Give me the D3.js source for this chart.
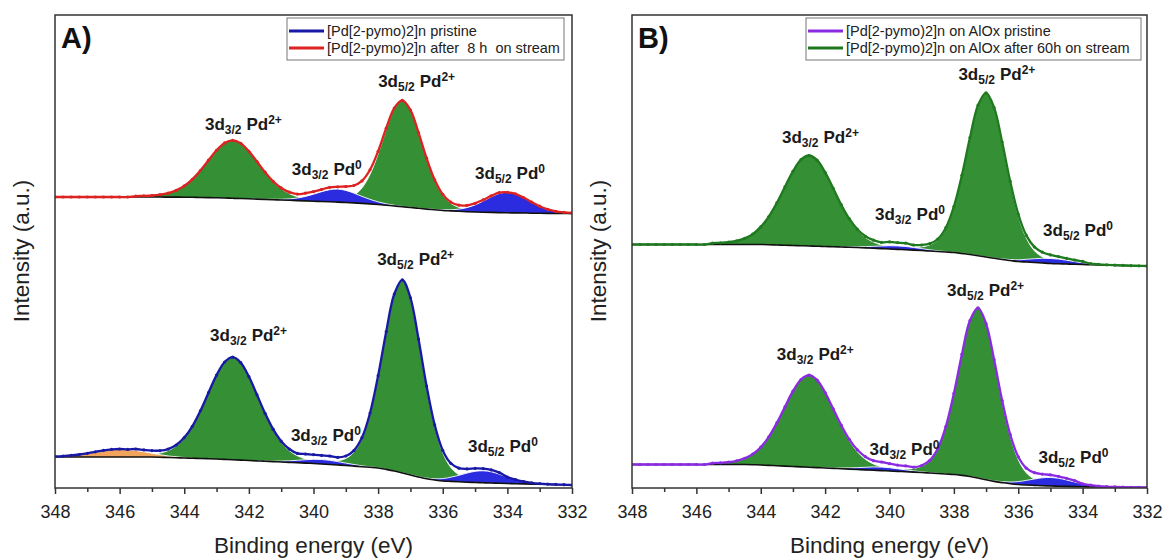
<!DOCTYPE html>
<html><head><meta charset="utf-8">
<script src="https://cdn.jsdelivr.net/npm/d3@7"></script>
<style>html,body{margin:0;padding:0;background:#fff;} svg{display:block;font-family:"Liberation Sans",Arial,sans-serif;}</style>
</head><body><svg id="chart" width="1166" height="558"></svg>
<script>
// ---------------- DATA ----------------
const energies = [348,347.75,347.5,347.25,347,346.75,346.5,346.25,346,345.75,345.5,345.25,345,
344.75,344.5,344.25,344,343.75,343.5,343.25,343,342.75,342.5,342.25,342,341.75,341.5,341.25,341,
340.75,340.5,340.25,340,339.75,339.5,339.25,339,338.75,338.5,338.25,338,337.75,337.5,337.25,337,
336.75,336.5,336.25,336,335.75,335.5,335.25,335,334.75,334.5,334.25,334,333.75,333.5,333.25,333,
332.75,332.5,332.25,332];
const xTickLabels = [348,346,344,342,340,338,336,334,332];
const xMinorTicks = [347,345,343,341,339,337,335,333];

// Shirley-type baselines (a.u.) on the energy grid
const baseA_top = [29.10,29.10,29.10,29.10,29.10,29.10,29.10,29.10,29.10,29.10,29.10,29.10,29.10,
29.10,29.09,29.09,29.08,29.07,29.05,29.04,29.02,29.00,28.97,28.95,28.92,28.89,28.86,28.83,28.80,
28.77,28.74,28.71,28.68,28.65,28.62,28.59,28.55,28.51,28.46,28.41,28.35,28.28,28.20,28.12,28.05,
27.97,27.89,27.82,27.75,27.71,27.67,27.63,27.60,27.58,27.56,27.54,27.52,27.51,27.50,27.48,27.47,
27.46,27.45,27.45,27.44];
const baseA_bot = [3.10,3.10,3.10,3.10,3.10,3.10,3.10,3.10,3.10,3.10,3.10,3.10,3.10,
3.08,3.05,3.03,3.00,2.98,2.95,2.93,2.90,2.86,2.83,2.79,2.75,2.71,2.68,2.64,2.60,
2.56,2.53,2.49,2.45,2.40,2.35,2.30,2.25,2.19,2.13,2.07,2.00,1.86,1.70,1.50,1.30,
1.10,0.92,0.80,0.70,0.66,0.62,0.58,0.55,0.52,0.50,0.47,0.45,0.43,0.41,0.39,0.37,
0.35,0.33,0.32,0.30];
const baseB_top = [24.35,24.35,24.35,24.35,24.35,24.35,24.35,24.35,24.35,24.35,24.35,24.35,24.35,
24.35,24.35,24.35,24.35,24.33,24.30,24.28,24.25,24.23,24.20,24.18,24.15,24.13,24.10,24.08,24.05,
24.01,23.98,23.94,23.90,23.86,23.83,23.79,23.75,23.70,23.65,23.60,23.55,23.45,23.35,23.23,23.10,
22.97,22.85,22.75,22.65,22.60,22.55,22.50,22.45,22.42,22.40,22.37,22.35,22.33,22.31,22.29,22.27,
22.25,22.23,22.22,22.20];
const baseB_bot = [2.35,2.35,2.35,2.35,2.35,2.35,2.35,2.35,2.35,2.35,2.35,2.35,2.35,
2.35,2.35,2.33,2.30,2.26,2.23,2.19,2.15,2.11,2.08,2.04,2.00,1.96,1.93,1.89,1.85,
1.81,1.78,1.74,1.70,1.66,1.63,1.59,1.55,1.50,1.45,1.40,1.35,1.26,1.15,1.00,0.82,
0.66,0.54,0.43,0.35,0.30,0.26,0.23,0.20,0.18,0.16,0.14,0.12,0.11,0.10,0.09,0.08,
0.07,0.06,0.06,0.05];

// Fitted components [binding energy, intensity above baseline]
const A_top_Pd2_32 = [[345.75,0],[345.5,0.08],[345.25,0.11],[345,0.15],[344.75,0.23],[344.5,0.39],[344.25,0.67],[344,1.13],[343.75,1.80],[343.5,2.70],[343.25,3.74],[343,4.75],[342.75,5.51],[342.5,5.8],[342.25,5.51],[342,4.75],[341.75,3.74],[341.5,2.70],[341.25,1.80],[341,1.13],[340.75,0.67],[340.5,0.39],[340.25,0.23],[340,0.15],[339.75,0.11],[339.5,0.08],[339.25,0]];
const A_top_Pd2_52 = [[340.5,0],[340.25,0.09],[340,0.10],[339.75,0.12],[339.5,0.16],[339.25,0.23],[339,0.39],[338.75,0.76],[338.5,1.55],[338.25,2.96],[338,5.06],[337.75,7.56],[337.5,9.72],[337.25,10.6],[337,9.72],[336.75,7.56],[336.5,5.06],[336.25,2.96],[336,1.55],[335.75,0.76],[335.5,0.39],[335.25,0.23],[335,0.16],[334.75,0.12],[334.5,0.10],[334.25,0.09],[334,0]];
const A_top_Pd0_32 = [[342,0],[341.75,0.018],[341.5,0.026],[341.25,0.042],[341,0.074],[340.75,0.14],[340.5,0.26],[340.25,0.45],[340,0.70],[339.75,0.98],[339.5,1.21],[339.25,1.3],[339,1.21],[338.75,0.98],[338.5,0.70],[338.25,0.45],[338,0.26],[337.75,0.14],[337.5,0.074],[337.25,0.042],[337,0.026],[336.75,0.018],[336.5,0]];
const A_top_Pd0_52 = [[336.75,0],[336.5,0.029],[336.25,0.041],[336,0.066],[335.75,0.117],[335.5,0.22],[335.25,0.41],[335,0.71],[334.75,1.11],[334.5,1.55],[334.25,1.91],[334,2.05],[333.75,1.91],[333.5,1.55],[333.25,1.11],[333,0.71],[332.75,0.41],[332.5,0.22],[332.25,0.117],[332,0.066]];

const A_bot_sat = [[348,0.05],[347.75,0.09],[347.5,0.155],[347.25,0.25],[347,0.37],[346.75,0.52],[346.5,0.66],[346.25,0.76],[346,0.8],[345.75,0.76],[345.5,0.66],[345.25,0.52],[345,0.37],[344.75,0.25],[344.5,0.155],[344.25,0.09],[344,0.05],[343.75,0]];
const A_bot_Pd2_32 = [[345.75,0],[345.5,0.14],[345.25,0.19],[345,0.27],[344.75,0.41],[344.5,0.69],[344.25,1.18],[344,1.99],[343.75,3.19],[343.5,4.77],[343.25,6.60],[343,8.39],[342.75,9.74],[342.5,10.25],[342.25,9.74],[342,8.39],[341.75,6.60],[341.5,4.77],[341.25,3.19],[341,1.99],[340.75,1.18],[340.5,0.69],[340.25,0.41],[340,0.27],[339.75,0.19],[339.5,0.14],[339.25,0]];
const A_bot_Pd2_52 = [[340.5,0],[340.25,0.16],[340,0.19],[339.75,0.22],[339.5,0.29],[339.25,0.42],[339,0.71],[338.75,1.39],[338.5,2.82],[338.25,5.38],[338,9.21],[337.75,13.76],[337.5,17.70],[337.25,19.3],[337,17.70],[336.75,13.76],[336.5,9.21],[336.25,5.38],[336,2.82],[335.75,1.39],[335.5,0.71],[335.25,0.42],[335,0.29],[334.75,0.22],[334.5,0.19],[334.25,0.16],[334,0]];
const A_bot_Pd0_32 = [[342,0],[341.75,0.014],[341.5,0.026],[341.25,0.05],[341,0.09],[340.75,0.16],[340.5,0.24],[340.25,0.34],[340,0.42],[339.75,0.45],[339.5,0.42],[339.25,0.34],[339,0.24],[338.75,0.16],[338.5,0.09],[338.25,0.05],[338,0.026],[337.75,0.014],[337.5,0]];
const A_bot_Pd0_52 = [[337.5,0],[337.25,0.017],[337,0.024],[336.75,0.038],[336.5,0.068],[336.25,0.13],[336,0.24],[335.75,0.42],[335.5,0.65],[335.25,0.91],[335,1.12],[334.75,1.2],[334.5,1.12],[334.25,0.91],[334,0.65],[333.75,0.42],[333.5,0.24],[333.25,0.13],[333,0.068],[332.75,0.038],[332.5,0.024],[332.25,0.017],[332,0]];

const B_top_Pd2_32 = [[345.75,0],[345.5,0.13],[345.25,0.17],[345,0.24],[344.75,0.36],[344.5,0.61],[344.25,1.04],[344,1.76],[343.75,2.81],[343.5,4.21],[343.25,5.83],[343,7.41],[342.75,8.60],[342.5,9.05],[342.25,8.60],[342,7.41],[341.75,5.83],[341.5,4.21],[341.25,2.81],[341,1.76],[340.75,1.04],[340.5,0.61],[340.25,0.36],[340,0.24],[339.75,0.17],[339.5,0.13],[339.25,0]];
const B_top_Pd2_52 = [[340.25,0],[340,0.14],[339.75,0.16],[339.5,0.19],[339.25,0.25],[339,0.36],[338.75,0.61],[338.5,1.18],[338.25,2.39],[338,4.58],[337.75,7.82],[337.5,11.69],[337.25,15.04],[337,16.4],[336.75,15.04],[336.5,11.69],[336.25,7.82],[336,4.58],[335.75,2.39],[335.5,1.18],[335.25,0.61],[335,0.36],[334.75,0.25],[334.5,0.19],[334.25,0.16],[334,0.14],[333.75,0]];
const B_top_Pd0_32 = [[342,0],[341.75,0.011],[341.5,0.02],[341.25,0.04],[341,0.07],[340.75,0.12],[340.5,0.19],[340.25,0.26],[340,0.33],[339.75,0.35],[339.5,0.33],[339.25,0.26],[339,0.19],[338.75,0.12],[338.5,0.07],[338.25,0.04],[338,0.02],[337.75,0.011],[337.5,0]];
const B_top_Pd0_52 = [[337.5,0],[337.25,0.01],[337,0.016],[336.75,0.029],[336.5,0.054],[336.25,0.10],[336,0.17],[335.75,0.27],[335.5,0.38],[335.25,0.47],[335,0.5],[334.75,0.47],[334.5,0.38],[334.25,0.27],[334,0.17],[333.75,0.10],[333.5,0.054],[333.25,0.029],[333,0.016],[332.75,0.01],[332.5,0]];

const B_bot_Pd2_32 = [[345.75,0],[345.5,0.13],[345.25,0.17],[345,0.24],[344.75,0.37],[344.5,0.62],[344.25,1.06],[344,1.78],[343.75,2.86],[343.5,4.28],[343.25,5.92],[343,7.53],[342.75,8.74],[342.5,9.2],[342.25,8.74],[342,7.53],[341.75,5.92],[341.5,4.28],[341.25,2.86],[341,1.78],[340.75,1.06],[340.5,0.62],[340.25,0.37],[340,0.24],[339.75,0.17],[339.5,0.13],[339.25,0]];
const B_bot_Pd2_52 = [[340.5,0],[340.25,0.14],[340,0.165],[339.75,0.20],[339.5,0.26],[339.25,0.37],[339,0.63],[338.75,1.22],[338.5,2.48],[338.25,4.74],[338,8.11],[337.75,12.12],[337.5,15.59],[337.25,17.0],[337,15.59],[336.75,12.12],[336.5,8.11],[336.25,4.74],[336,2.48],[335.75,1.22],[335.5,0.63],[335.25,0.37],[335,0.26],[334.75,0.20],[334.5,0.165],[334.25,0.14],[334,0]];
const B_bot_Pd0_32 = [[342.5,0],[342.25,0.011],[342,0.02],[341.75,0.04],[341.5,0.07],[341.25,0.12],[341,0.19],[340.75,0.26],[340.5,0.33],[340.25,0.35],[340,0.33],[339.75,0.26],[339.5,0.19],[339.25,0.12],[339,0.07],[338.75,0.04],[338.5,0.02],[338.25,0.011],[338,0]];
const B_bot_Pd0_52 = [[337.75,0],[337.5,0.012],[337.25,0.017],[337,0.027],[336.75,0.048],[336.5,0.092],[336.25,0.17],[336,0.29],[335.75,0.46],[335.5,0.64],[335.25,0.79],[335,0.85],[334.75,0.79],[334.5,0.64],[334.25,0.46],[334,0.29],[333.75,0.17],[333.5,0.092],[333.25,0.048],[333,0.027],[332.75,0.017],[332.5,0.012],[332.25,0]];

// Peak labels: [sub, sup, energy, intensity]
const labelsA_top = [["3/2","2+",343.36,35.8],["3/2","0",340.67,31.3],["5/2","2+",338.0,40.1],["5/2","0",335.0,30.9]];
const labelsA_bot = [["3/2","2+",343.2,14.7],["3/2","0",340.7,4.7],["5/2","2+",338.03,22.3],["5/2","0",335.22,3.6]];
const labelsB_top = [["3/2","2+",343.34,34.5],["3/2","0",340.45,26.8],["5/2","2+",337.86,40.8],["5/2","0",335.23,25.2]];
const labelsB_bot = [["3/2","2+",343.5,12.8],["3/2","0",340.62,3.3],["5/2","2+",338.21,19.2],["5/2","0",335.37,2.5]];

const legendA = ["[Pd[2-pymo)2]n pristine","[Pd[2-pymo)2]n after  8 h  on stream"];
const legendB = ["[Pd[2-pymo)2]n on AlOx pristine","[Pd[2-pymo)2]n on AlOx after 60h on stream"];

// ---------------- STYLE ----------------
const GREEN = "#358f35", BLUE = "#2b2be0", ORANGE = "#f0a45c";
const C_RED = "#dd2222", C_NAVY = "#1919a6", C_PURPLE = "#8a2be2", C_DGREEN = "#1f7a1f";
const TOP = 15, BOTTOM = 488;

const panels = [
  {id:"A", range:[55,572], letter:"A)", legend:legendA, legendColors:[C_NAVY,C_RED],
   legendBox:[287,18,277,42],
   spectra:[
     {color:C_RED, base:baseA_top, labels:labelsA_top,
      comps:[[A_top_Pd2_32,GREEN],[A_top_Pd2_52,GREEN],[A_top_Pd0_32,BLUE],[A_top_Pd0_52,BLUE]]},
     {color:C_NAVY, base:baseA_bot, labels:labelsA_bot,
      comps:[[A_bot_Pd2_32,GREEN],[A_bot_Pd2_52,GREEN],[A_bot_sat,ORANGE],[A_bot_Pd0_32,BLUE],[A_bot_Pd0_52,BLUE]]}
   ]},
  {id:"B", range:[632,1147], letter:"B)", legend:legendB, legendColors:[C_PURPLE,C_DGREEN],
   legendBox:[806,18,335,42],
   spectra:[
     {color:C_DGREEN, base:baseB_top, labels:labelsB_top,
      comps:[[B_top_Pd2_32,GREEN],[B_top_Pd2_52,GREEN],[B_top_Pd0_32,BLUE],[B_top_Pd0_52,BLUE]]},
     {color:C_PURPLE, base:baseB_bot, labels:labelsB_bot,
      comps:[[B_bot_Pd2_32,GREEN],[B_bot_Pd2_52,GREEN],[B_bot_Pd0_32,BLUE],[B_bot_Pd0_52,BLUE]]}
   ]}
];

// ---------------- DRAW ----------------
const svg = d3.select("#chart");
const y = d3.scaleLinear().domain([0,47.3]).range([BOTTOM,TOP]);
const key = e => e.toFixed(2);
const curve = d3.curveCatmullRom.alpha(0.5);

panels.forEach(p => {
  const x = d3.scaleLinear().domain([348,332]).range(p.range);
  const W = p.range[1]-p.range[0];
  svg.append("clipPath").attr("id","clip"+p.id).append("rect")
     .attr("x",p.range[0]).attr("y",TOP).attr("width",W).attr("height",BOTTOM-TOP);
  const plot = svg.append("g").attr("clip-path",`url(#clip${p.id})`);

  p.spectra.forEach(s => {
    const bmap = new Map(energies.map((e,i)=>[key(e), s.base[i]]));
    const bv = e => bmap.get(key(e));
    s.comps.forEach(([data, fill]) => {
      const area = d3.area().curve(curve).x(d=>x(d[0]))
        .y0(d=>y(bv(d[0]))).y1(d=>y(bv(d[0])+d[1]));
      plot.append("path").datum(data).attr("d",area).attr("fill",fill);
      const top = d3.line().curve(curve).x(d=>x(d[0])).y(d=>y(bv(d[0])+d[1]));
      plot.append("path").datum(data).attr("d",top).attr("fill","none")
        .attr("stroke","#fff").attr("stroke-width",0.9);
    });
    const bl = energies.map((e,i)=>[e, s.base[i]]);
    plot.append("path").datum(bl)
      .attr("d", d3.line().curve(curve).x(d=>x(d[0])).y(d=>y(d[1])))
      .attr("fill","none").attr("stroke","#111").attr("stroke-width",1.6);
    const maps = s.comps.map(([data]) => new Map(data.map(d=>[key(d[0]), d[1]])));
    const env = energies.map((e,i)=>{
      let v = s.base[i];
      maps.forEach(m => { v += (m.get(key(e)) || 0); });
      return [e, v];
    });
    plot.append("path").datum(env)
      .attr("d", d3.line().curve(curve).x(d=>x(d[0])).y(d=>y(d[1])))
      .attr("fill","none").attr("stroke",s.color).attr("stroke-width",2.3);
    plot.selectAll(null).data(env).join("circle")
      .attr("cx",d=>x(d[0])).attr("cy",d=>y(d[1])).attr("r",1.6).attr("fill",s.color);

    // peak labels
    s.labels.forEach(([sub, sup, E, I]) => {
      const t = svg.append("text").attr("x",x(E)).attr("y",y(I))
        .attr("font-size",17).attr("font-weight","bold").attr("fill","#1a1a1a");
      t.append("tspan").text("3d");
      t.append("tspan").attr("font-size",12).attr("dy",4).text(sub);
      t.append("tspan").attr("dy",-4).attr("dx",5).text("Pd");
      t.append("tspan").attr("font-size",12).attr("dy",-6).text(sup);
    });
  });

  // frame
  svg.append("rect").attr("x",p.range[0]).attr("y",TOP).attr("width",W).attr("height",BOTTOM-TOP)
    .attr("fill","none").attr("stroke","#333").attr("stroke-width",1.5);

  // axes
  const ax = svg.append("g").attr("transform",`translate(0,${BOTTOM})`)
    .call(d3.axisBottom(x).tickValues(xTickLabels).tickSize(6).tickPadding(11).tickFormat(d3.format("d")));
  ax.select(".domain").remove();
  ax.selectAll("line").attr("stroke","#333").attr("stroke-width",1.5);
  ax.selectAll("text").attr("font-size",18).attr("fill","#222").attr("font-family","'Liberation Sans',Arial,sans-serif");
  const axm = svg.append("g").attr("transform",`translate(0,${BOTTOM})`)
    .call(d3.axisBottom(x).tickValues(xMinorTicks).tickSize(4).tickFormat(""));
  axm.select(".domain").remove();
  axm.selectAll("line").attr("stroke","#333").attr("stroke-width",1.5);

  // axis titles
  svg.append("text").attr("x",(p.range[0]+p.range[1])/2).attr("y",553)
    .attr("text-anchor","middle").attr("font-size",22.5).attr("fill","#222").text("Binding energy (eV)");
  svg.append("text").attr("transform",`translate(${p.range[0]-26},251) rotate(-90)`)
    .attr("text-anchor","middle").attr("font-size",22.5).attr("fill","#222").text("Intensity (a.u.)");

  // panel letter
  svg.append("text").attr("x",p.range[0]+6).attr("y",48).attr("font-size",29)
    .attr("font-weight","bold").attr("fill","#111").text(p.letter);

  // legend
  const [lx,ly,lw,lh] = p.legendBox;
  svg.append("rect").attr("x",lx).attr("y",ly).attr("width",lw).attr("height",lh)
    .attr("fill","#fff").attr("stroke","#777").attr("stroke-width",1);
  p.legend.forEach((txt,i) => {
    const cy = ly + 13 + i*17;
    svg.append("line").attr("x1",lx+2).attr("x2",lx+37).attr("y1",cy).attr("y2",cy)
      .attr("stroke",p.legendColors[i]).attr("stroke-width",3);
    svg.append("text").attr("x",lx+40).attr("y",cy+5).attr("font-size",14.5)
      .attr("fill","#222").attr("xml:space","preserve").style("white-space","pre").text(txt);
  });
});
</script></body></html>
